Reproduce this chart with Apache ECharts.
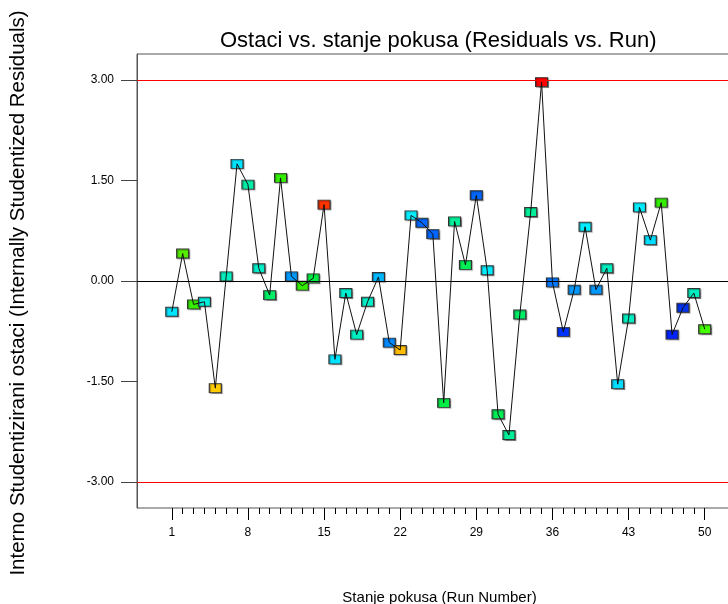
<!DOCTYPE html>
<html>
<head>
<meta charset="utf-8">
<title>Ostaci vs. stanje pokusa</title>
<script src="https://cdn.jsdelivr.net/npm/echarts@6/dist/echarts.min.js"></script>
<style>
html, body { margin: 0; padding: 0; background: #fff; }
#chart { width: 728px; height: 604px; }
</style>
</head>
<body>
<div id="chart"></div>
<script>
// broj pokusa (run order)
const runs = [1, 2, 3, 4, 5, 6, 7, 8, 9, 10, 11, 12, 13, 14, 15, 16, 17, 18, 19, 20,
  21, 22, 23, 24, 25, 26, 27, 28, 29, 30, 31, 32, 33, 34, 35, 36, 37, 38, 39, 40,
  41, 42, 43, 44, 45, 46, 47, 48, 49, 50]
// interno studentizirani ostaci, ocitano sa slike
const residuals = [-0.46, 0.41, -0.35, -0.31, -1.60, 0.07, 1.75, 1.44, 0.19, -0.21,
  1.54, 0.07, -0.07, 0.04, 1.14, -1.17, -0.18, -0.80, -0.31, 0.06,
  -0.92, -1.03, 0.98, 0.87, 0.70, -1.82, 0.89, 0.24, 1.28, 0.16,
  -1.99, -2.30, -0.50, 1.03, 2.97, -0.02, -0.76, -0.13, 0.81, -0.13,
  0.19, -1.54, -0.56, 1.10, 0.61, 1.17, -0.80, -0.40, -0.18, -0.72]
// boje markera (skala odziva)
const markerColors = ['#00e5ff', '#55ee00', '#33ee00', '#00eedd', '#ffcc00', '#00eec0', '#00e5ff', '#00eea8', '#00eec8', '#00ee66',
  '#33ee00', '#0099ff', '#33ee00', '#00ee44', '#ff3300', '#00e5ff', '#00eed0', '#00eec0', '#00eec8', '#00b8ff',
  '#0088ff', '#ffbb00', '#00eeff', '#0066ff', '#0066ff', '#00ee44', '#00ee99', '#00ee55', '#0066ff', '#00eeff',
  '#00ee55', '#00ee99', '#00ee66', '#00ee99', '#ff0000', '#0077ff', '#0033ff', '#0099ff', '#00eeff', '#0099ff',
  '#00eec0', '#00ddff', '#00eec0', '#00eeff', '#00ddff', '#33ee00', '#0022ff', '#0033ee', '#00eec0', '#44ff00']
const xTicks = [1, 8, 15, 22, 29, 36, 43, 50]
const yTicks = [-3, -1.5, 0, 1.5, 3]
const limitLines = [3, -3]
const zeroLine = 0

const font = 'Liberation Sans, Arial, sans-serif'
const points = runs.map((r, i) => [r, residuals[i]])

const myChart = echarts.init(document.getElementById('chart'), null, { renderer: 'canvas' })
const option = {
  animation: false,
  backgroundColor: '#fff',
  textStyle: { fontFamily: font },
  title: {
    text: 'Ostaci vs. stanje pokusa (Residuals vs. Run)',
    left: 220,
    top: 30,
    padding: 0,
    textStyle: { fontFamily: font, fontSize: 22, fontWeight: 'normal', color: '#000' }
  },
  grid: {
    left: 137,
    right: -30,
    top: 54,
    bottom: 96,
    outerBoundsMode: 'none',
    containLabel: false,
    show: true,
    borderColor: '#555',
    borderWidth: 1
  },
  xAxis: [
    {
      type: 'value',
      min: -2.2,
      max: 54.9,
      name: 'Stanje pokusa (Run Number)',
      nameLocation: 'middle',
      nameGap: 82,
      nameTextStyle: { fontFamily: font, fontSize: 15, color: '#000', padding: [0, 16, 0, 0] },
      axisLine: { show: false, onZero: false },
      splitLine: { show: false },
      axisTick: { show: true, customValues: xTicks, length: 12, lineStyle: { color: '#000' } },
      axisLabel: { customValues: xTicks, margin: 19, fontSize: 12, color: '#000', fontFamily: font }
    },
    {
      // sitne crtice za svaki pokus
      type: 'value',
      position: 'bottom',
      min: -2.2,
      max: 54.9,
      axisLine: { show: false, onZero: false },
      splitLine: { show: false },
      axisTick: { show: true, customValues: runs, length: 6, lineStyle: { color: '#000' } },
      axisLabel: { show: false }
    }
  ],
  yAxis: {
    type: 'value',
    min: -3.39,
    max: 3.39,
    name: 'Interno Studentizirani ostaci (Internally Studentized Residuals)',
    nameLocation: 'middle',
    nameGap: 108,
    nameTextStyle: { fontFamily: font, fontSize: 20.5, color: '#000', padding: [0, 24, 0, 0] },
    axisLine: { show: true, onZero: false, lineStyle: { color: '#555' } },
    splitLine: { show: false },
    axisTick: { show: true, customValues: yTicks, length: 16, lineStyle: { color: '#444' } },
    axisLabel: {
      customValues: yTicks,
      margin: 23,
      fontSize: 12,
      color: '#000',
      fontFamily: font,
      formatter: function(v) {
        return v.toFixed(2)
      }
    }
  },
  series: [
    {
      name: 'markeri',
      type: 'scatter',
      z: 2,
      symbol: 'rect',
      symbolSize: [12, 9],
      data: points.map((p, i) => ({
        value: p,
        itemStyle: { color: markerColors[i] }
      })),
      itemStyle: {
        borderColor: '#333',
        borderWidth: 1,
        opacity: 1,
        shadowColor: 'rgba(0,0,0,0.35)',
        shadowOffsetX: 1,
        shadowOffsetY: 1,
        shadowBlur: 1
      },
      markLine: {
        silent: true,
        symbol: 'none',
        label: { show: false },
        lineStyle: { color: '#000', width: 1, type: 'solid' },
        data: [{ yAxis: zeroLine }]
      }
    },
    {
      name: 'ostaci',
      type: 'line',
      z: 3,
      symbol: 'none',
      lineStyle: { color: '#111', width: 1 },
      data: points,
      markLine: {
        silent: true,
        symbol: 'none',
        label: { show: false },
        lineStyle: { color: '#ff0000', width: 1, type: 'solid' },
        data: limitLines.map(v => ({ yAxis: v }))
      }
    }
  ]
}
myChart.setOption(option)
</script>
</body>
</html>
